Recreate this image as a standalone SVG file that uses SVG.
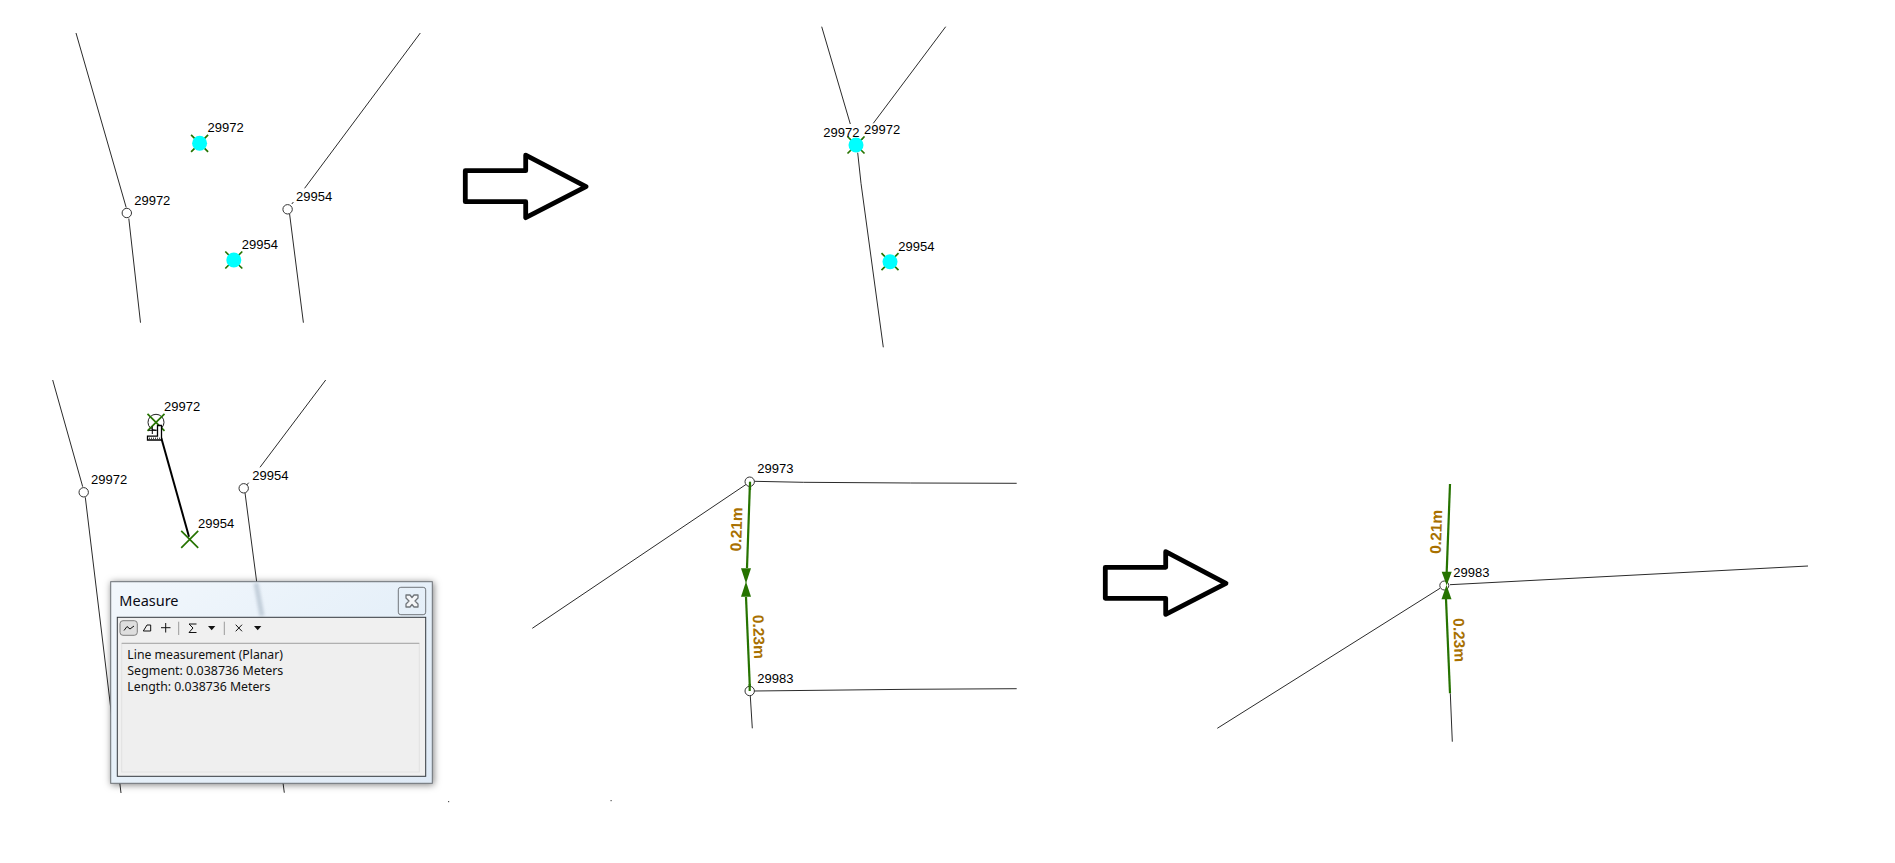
<svg xmlns="http://www.w3.org/2000/svg" width="1895" height="863" viewBox="0 0 1895 863">
<style>
.bg{fill:#fff}
.ln{fill:none;stroke:#2b2b2b;stroke-width:1}
.gr{fill:none;stroke:#267300;stroke-width:2.2}
.hd{fill:#267300;stroke:none}
.pt{fill:#fff;stroke:#333;stroke-width:1}
.cy{fill:#00ffff;stroke:none}
.xm{fill:none;stroke:#267300;stroke-width:1.7}
.lb{font-family:"Liberation Sans",Arial,sans-serif;font-size:13px;fill:#000}
.ms{font-family:"Liberation Sans",Arial,sans-serif;font-size:15.5px;font-weight:700;fill:#a87000}
.ar{fill:#fff;stroke:#000;stroke-width:4.8;stroke-linejoin:round}
.ui{font-family:"Noto Sans","Liberation Sans",sans-serif;font-size:12px;fill:#111}
.ic{fill:none;stroke:#111;stroke-width:1}
.tb{fill:#111;stroke:none}
.sp{stroke:#9a9a9a;stroke-width:1}
</style>
<defs>
<polygon id="bigArrow" points="0,0 60.4,0 60.4,-15.6 120.7,16 60.4,47 60.4,31 0,31"/>
<g id="xmark"><path class="xm" d="M-8.5,-8.5L8.5,8.5M8.5,-8.5L-8.5,8.5"/></g>
<g id="snap"><use href="#xmark"/><circle class="cy" r="7.5"/></g>
<linearGradient id="glass" x1="0" y1="0" x2="1" y2="1"><stop offset="0" stop-color="#f2f7fc"/><stop offset="0.5" stop-color="#e6f0f9"/><stop offset="1" stop-color="#dfeaf6"/></linearGradient>
<filter id="shadow" x="-10%" y="-10%" width="120%" height="120%"><feDropShadow dx="1" dy="1" stdDeviation="3.5" flood-color="#000" flood-opacity="0.5"/></filter>
<filter id="soft" x="-100%" y="-20%" width="300%" height="140%"><feGaussianBlur stdDeviation="1.5"/></filter>
</defs>
<rect class="bg" width="1895" height="863"/>

<g id="connectors">
<!-- panel 1 -->
<path class="ln" d="M76,33L126.2,207.5"/>
<path class="ln" d="M128.8,218.5L140.5,322.7"/>
<path class="ln" d="M420.3,33L304.6,188.3M293.4,202L291.8,204"/>
<path class="ln" d="M289.6,214L303.4,322.7"/>
<!-- panel 2 -->
<path class="ln" d="M821.7,26.7L850.3,124"/>
<path class="ln" d="M945.7,26.7L873.3,123.3M864,136.7L861.7,140"/>
<path class="ln" d="M857.7,152.7L861,183.3L883.3,347.3"/>
<!-- panel 3 -->
<path class="ln" d="M52.7,380L82.7,486.7"/>
<path class="ln" d="M85.3,497.3L121,793"/>
<path class="ln" d="M325.7,380L260,467.3M248.7,482.7L246.7,485"/>
<path class="ln" d="M245,492.7L284.3,792.7"/>
<path fill="none" stroke="#000" stroke-width="2" d="M161.3,438L189,536.7"/>
<!-- panel 4 -->
<path class="ln" d="M532.3,628.3L746.7,484"/>
<path class="ln" d="M754,481.3L803.3,482.3L910.7,483L1016.7,483.3"/>
<path class="ln" d="M754,691L909,689.3L1016.7,688.7"/>
<path class="ln" d="M750.3,696L752.3,728.3"/>
<path class="gr" d="M750,481.7L747,568"/>
<path class="gr" d="M746,597L750,691"/>
<polygon class="hd" points="741,568.3 751,568.3 746,583.5"/>
<polygon class="hd" points="741,596.7 751,596.7 746,581.5"/>
<!-- panel 5 -->
<path class="ln" d="M1217.3,728.3L1440,588.3"/>
<path class="ln" d="M1450,584.7L1808,566"/>
<path class="ln" d="M1450.3,693.3L1452.3,741.7"/>
<path class="gr" d="M1450,484L1446.7,572"/>
<path class="gr" d="M1446,599L1450,693.3"/>
</g>

<g id="arrow-1"><use href="#bigArrow" class="ar" x="465.3" y="170.7"/></g>
<g id="arrow-2"><use href="#bigArrow" class="ar" x="1105.3" y="567.3"/></g>

<g id="p1-node-29972"><circle class="pt" cx="126.8" cy="213" r="4.7"/><text class="lb" x="134.2" y="205">29972</text></g>
<g id="p1-node-29954"><circle class="pt" cx="287.6" cy="209.3" r="4.7"/><text class="lb" x="296.1" y="201">29954</text></g>
<g id="p1-point-29972"><use href="#snap" x="199.6" y="143.3"/><text class="lb" x="207.6" y="132">29972</text></g>
<g id="p1-point-29954"><use href="#snap" x="233.8" y="260"/><text class="lb" x="241.8" y="249.3">29954</text></g>

<g id="p2-point-29972"><use href="#snap" x="856" y="145"/><text class="lb" x="823.3" y="137">29972</text><text class="lb" x="864" y="134">29972</text></g>
<g id="p2-point-29954"><use href="#snap" x="890" y="261.7"/><text class="lb" x="898.3" y="251">29954</text></g>

<g id="p3-node-29972"><circle class="pt" cx="83.7" cy="492.3" r="4.7"/><text class="lb" x="91" y="484">29972</text></g>
<g id="p3-node-29954"><circle class="pt" cx="243.7" cy="488.3" r="4.7"/><text class="lb" x="252.3" y="480">29954</text></g>
<g id="p3-start-29972">
<circle cx="156" cy="422.3" r="8" fill="none" stroke="#222" stroke-width="1"/>
<use href="#xmark" x="156" y="422.3"/>
<text class="lb" x="164" y="410.7">29972</text>
<path d="M157.5,425.5H161.5V440H147.5V436.2H157.5Z" fill="#fff" stroke="#000" stroke-width="1.3"/>
<path d="M149,438.2H160" fill="none" stroke="#000" stroke-width="1" stroke-dasharray="1 1"/>
<path d="M148.5,430.3H156M152.3,426.5V434" fill="none" stroke="#000" stroke-width="1"/>
</g>
<g id="p3-end-29954"><use href="#xmark" x="189.7" y="539.3"/><text class="lb" x="198" y="528">29954</text></g>

<g id="measure-dialog">
<rect x="110.7" y="581.7" width="321.6" height="201.6" fill="url(#glass)" stroke="#6b7075" stroke-width="1" filter="url(#shadow)"/>
<path d="M256,583L262,616" stroke="#b9c6d3" stroke-width="5" fill="none" opacity="0.8" filter="url(#soft)"/>
<path d="M114,702V776" stroke="#c5d2df" stroke-width="3" fill="none" opacity="0.8" filter="url(#soft)"/>
<path d="M116,780H124M279,780H288" stroke="#b9c6d3" stroke-width="3" fill="none" opacity="0.8" filter="url(#soft)"/>
<text x="119.3" y="605.7" font-family="'Noto Sans','Liberation Sans',sans-serif" font-size="14.5px" fill="#0a0a14">Measure</text>
<g id="close-button">
<rect x="398.3" y="587.3" width="27.4" height="27.4" rx="2.5" fill="none" stroke="#71767b" stroke-width="1"/>
<path d="M406,595L410,595L412,597.5L414,595L418,595L418,598L415,601L418,604L418,607L414,607L412,604.5L410,607L406,607L406,604L409,601L406,598Z" fill="#f4f6f8" stroke="#70757a" stroke-width="1.3" stroke-linejoin="round"/>
</g>
<rect x="117.3" y="617.3" width="308.4" height="159" fill="#f0f0f0" stroke="#33383d" stroke-width="1"/>
<g id="toolbar">
<rect x="120" y="620.7" width="17.3" height="14.6" rx="3" fill="#dedede" stroke="#7d7d7d" stroke-width="1"/>
<path class="ic" d="M124,630.5L127,626.5L130,629L134,626"/>
<path class="ic" d="M143.3,631H150.7V625H147Z"/>
<path class="ic" d="M161,627.7H170.5M165.7,623V632.5"/>
<path class="sp" d="M178.7,621.7V635M224.3,621.7V635"/>
<path class="ic" d="M196.5,624H189L193,628L189,632.5H196.5"/>
<polygon class="tb" points="208,626 215.3,626 211.7,630.3"/>
<path class="ic" d="M235.7,624.7L242,631.3M242,624.7L235.7,631.3"/>
<polygon class="tb" points="254,626 261.3,626 257.7,630.3"/>
</g>
<rect x="121.7" y="643.3" width="297.6" height="128.7" fill="#efefef" stroke="#e2e2e2" stroke-width="1"/>
<path d="M121.7,643.3H419.3" stroke="#a3a3a3" stroke-width="1"/>
<text class="ui" x="127.3" y="659" textLength="155.7" lengthAdjust="spacingAndGlyphs">Line measurement (Planar)</text>
<text class="ui" x="127.3" y="675" textLength="156" lengthAdjust="spacingAndGlyphs">Segment: 0.038736 Meters</text>
<text class="ui" x="127.3" y="690.7" textLength="143" lengthAdjust="spacingAndGlyphs">Length: 0.038736 Meters</text>
</g>

<g id="p4-node-29973"><circle class="pt" cx="749.7" cy="481.7" r="4.7"/><path class="gr" d="M750,481.7V490"/><text class="lb" x="757.3" y="472.7">29973</text></g>
<g id="p4-node-29983"><circle class="pt" cx="749.7" cy="691" r="4.7"/><path class="gr" d="M749.7,684V691"/><text class="lb" x="757.3" y="682.7">29983</text></g>
<text class="ms" transform="translate(741,551.5) rotate(-88)">0.21m</text>
<text class="ms" transform="translate(752.7,615) rotate(88)">0.23m</text>

<g id="p5-node-29983">
<circle class="pt" cx="1444.3" cy="585.5" r="4.5"/>
<polygon class="hd" points="1441.7,571.7 1451.7,571.7 1446.7,585.5"/>
<polygon class="hd" points="1441.5,599.3 1451.5,599.3 1446.5,585"/>
<text class="lb" x="1453.3" y="576.7">29983</text>
</g>
<text class="ms" transform="translate(1440.7,554) rotate(-88)">0.21m</text>
<text class="ms" transform="translate(1453.3,618.3) rotate(88)">0.23m</text>

<g id="specks"><rect x="448" y="801" width="1.2" height="1.2" fill="#555"/><rect x="610.5" y="800" width="1.2" height="1.2" fill="#555"/></g>
</svg>
